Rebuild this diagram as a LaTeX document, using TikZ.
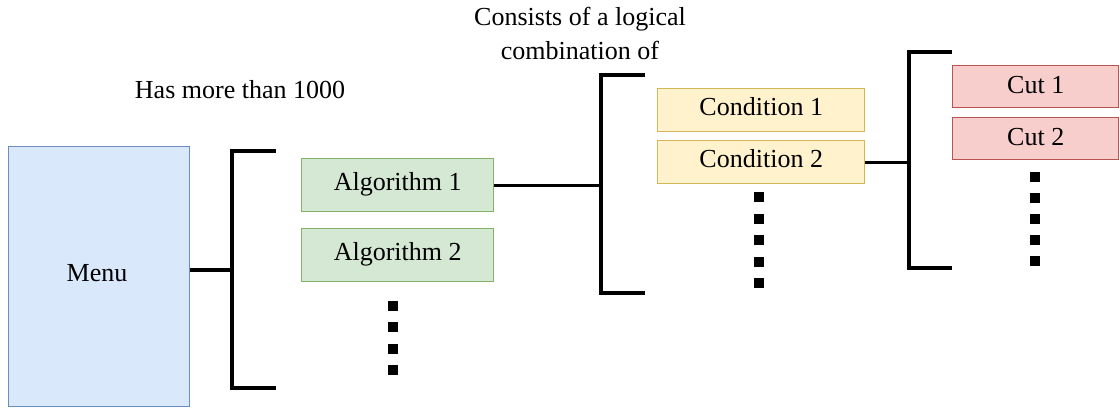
\documentclass[tikz,border=0pt]{standalone}
\usepackage{fontspec}
\setmainfont{Liberation Serif}
\definecolor{bluef}{HTML}{DAE8FC}\definecolor{blued}{HTML}{6C8EBF}
\definecolor{greenf}{HTML}{D5E8D4}\definecolor{greend}{HTML}{82B366}
\definecolor{yellowf}{HTML}{FFF2CC}\definecolor{yellowd}{HTML}{D6B656}
\definecolor{redf}{HTML}{F8CECC}\definecolor{redd}{HTML}{B85450}
\begin{document}
\begin{tikzpicture}[x=0.75pt,y=-0.75pt,
  every node/.style={font=\fontsize{19.5}{25.5}\selectfont, inner sep=0pt},
  box/.style={draw, line width=1.1pt, rectangle, anchor=north west},
  bracketline/.style={line width=2.3pt, line cap=butt},
  dotbox/.style={fill=black, minimum size=7.5pt, rectangle}]
\useasboundingbox (0,0) rectangle (1120,409);
% Menu
\node[box, fill=bluef, draw=blued, minimum width=181*0.75pt, minimum height=260*0.75pt] (menu) at (8,146) {};
\node (menutxt) at (97,273) {Menu};
% Left bracket
\coordinate (b1t) at (276,151); \coordinate (b1tv) at (232,151);
\coordinate (b1bv) at (232,388); \coordinate (b1b) at (276,388);
\coordinate (b1m) at (232,270);
\draw[bracketline] (b1t) -- (b1tv) -- (b1bv) -- (b1b);
\draw[bracketline] (menu.east |- b1m) -- (b1m);
% Algorithms
\node[box, fill=greenf, draw=greend, minimum width=192*0.75pt, minimum height=53*0.75pt] (alg1) at (301,158) {};
\node at ([yshift=0.75pt]alg1.center) {Algorithm 1};
\node[box, fill=greenf, draw=greend, minimum width=192*0.75pt, minimum height=53*0.75pt] (alg2) at (301,228) {};
\node at ([yshift=0.75pt]alg2.center) {Algorithm 2};
\foreach \i/\y in {1/306,2/327,3/349,4/370} \node[dotbox] (ad\i) at (393,\y) {};
% Middle bracket
\coordinate (b2t) at (645,75); \coordinate (b2tv) at (601,75);
\coordinate (b2bv) at (601,293); \coordinate (b2b) at (645,293);
\draw[bracketline] (b2t) -- (b2tv) -- (b2bv) -- (b2b);
\draw[bracketline] (alg1.east) -- (alg1.east -| b2tv);
% Conditions
\node[box, fill=yellowf, draw=yellowd, minimum width=207*0.75pt, minimum height=43*0.75pt] (c1) at (657,88) {};
\node at ([yshift=2.5pt]c1.center) {Condition 1};
\node[box, fill=yellowf, draw=yellowd, minimum width=207*0.75pt, minimum height=43*0.75pt] (c2) at (657,140) {};
\node at ([yshift=2.5pt]c2.center) {Condition 2};
\foreach \i/\y in {1/197,2/219,3/240,4/262,5/283} \node[dotbox] (cd\i) at (759,\y) {};
% Right bracket
\coordinate (b3t) at (952,52); \coordinate (b3tv) at (909,52);
\coordinate (b3bv) at (909,268); \coordinate (b3b) at (952,268);
\draw[bracketline] (b3t) -- (b3tv) -- (b3bv) -- (b3b);
\draw[bracketline] (c2.east) -- (c2.east -| b3tv);
% Cuts
\node[box, fill=redf, draw=redd, minimum width=166*0.75pt, minimum height=42*0.75pt] (cut1) at (952,65) {};
\node at ([yshift=1.5pt]cut1.center) {Cut 1};
\node[box, fill=redf, draw=redd, minimum width=166*0.75pt, minimum height=42*0.75pt] (cut2) at (952,117) {};
\node at ([yshift=1.5pt]cut2.center) {Cut 2};
\foreach \i/\y in {1/177,2/198,3/219,4/240,5/261} \node[dotbox] (kd\i) at (1035,\y) {};
% Labels
\node (lab1) at (240,90) {Has more than 1000};
\node[align=center] (lab2) at (580,33) {Consists of a logical\\combination of};
\end{tikzpicture}
\end{document}
